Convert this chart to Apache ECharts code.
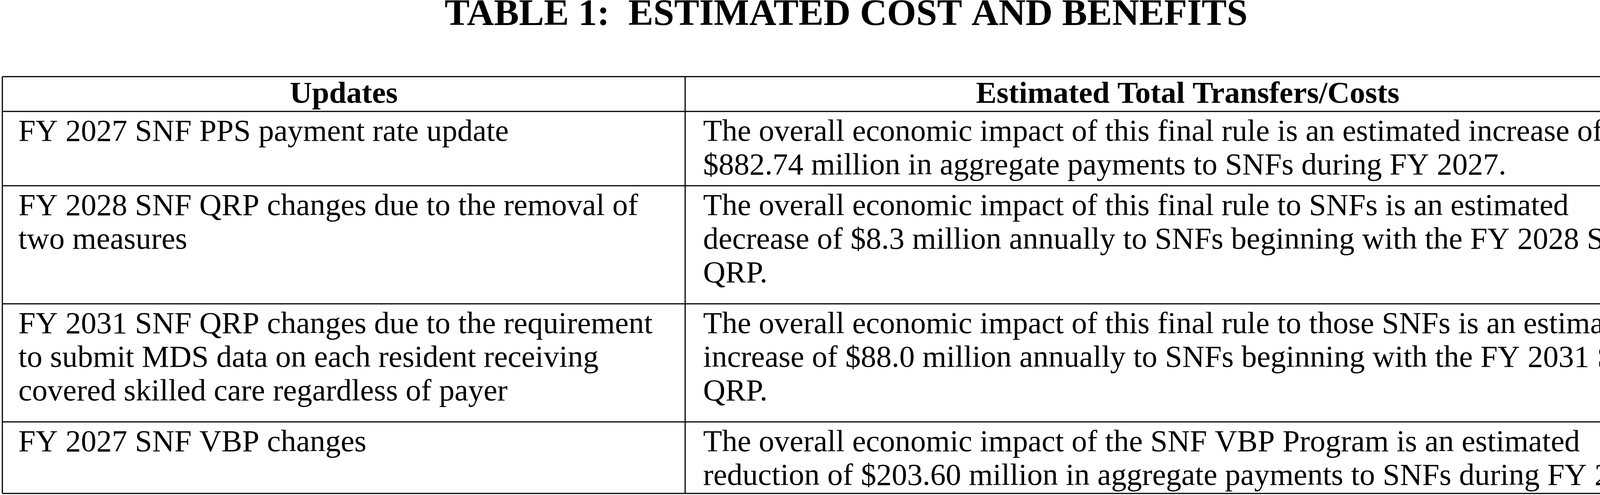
<!DOCTYPE html>
<html><head><meta charset="utf-8">
<script src="https://cdn.jsdelivr.net/npm/echarts@6/dist/echarts.min.js"></script>
<style>html,body{margin:0;padding:0;background:#fff}#c{width:4333px;height:1266px}</style>
</head><body><div id="c"></div>
<script>
const title = 'TABLE 1:  ESTIMATED COST AND BENEFITS';
const headers = ['Updates', 'Estimated Total Transfers/Costs'];
const updates = [
  'FY 2027 SNF PPS payment rate update',
  'FY 2028 SNF QRP changes due to the removal of\ntwo measures',
  'FY 2031 SNF QRP changes due to the requirement\nto submit MDS data on each resident receiving\ncovered skilled care regardless of payer',
  'FY 2027 SNF VBP changes'
];
const transfers = [
  'The overall economic impact of this final rule is an estimated increase of\n$882.74 million in aggregate payments to SNFs during FY 2027.',
  'The overall economic impact of this final rule to SNFs is an estimated\ndecrease of $8.3 million annually to SNFs beginning with the FY 2028 SNF\nQRP.',
  'The overall economic impact of this final rule to those SNFs is an estimated\nincrease of $88.0 million annually to SNFs beginning with the FY 2031 SNF\nQRP.',
  'The overall economic impact of the SNF VBP Program is an estimated\nreduction of $203.60 million in aggregate payments to SNFs during FY 2027.'
];

const L = 6, R = 4327, D = 1754;
const rowLines = [196, 285, 475, 777, 1079, 1262];
const font = '"Liberation Serif","Times New Roman",serif';
const els = [];
const ln = (x1,y1,x2,y2) => els.push({type:'line', shape:{x1,y1,x2,y2}, style:{stroke:'#000', lineWidth:3}});
rowLines.forEach(y => ln(L, y, R, y));
ln(L, rowLines[0], L, rowLines[5]);
ln(R, rowLines[0], R, rowLines[5]);
ln(D, rowLines[0], D, rowLines[5]);
els.push({type:'text', x:2166, y:39, style:{text:title, font:'bold 96px ' + font, fill:'#000', align:'center', verticalAlign:'middle'}});
els.push({type:'text', x:(L+D)/2, y:243, style:{text:headers[0], font:'bold 79px ' + font, fill:'#000', align:'center', verticalAlign:'middle'}});
els.push({type:'text', x:(D+R)/2, y:243, style:{text:headers[1], font:'bold 79px ' + font, fill:'#000', align:'center', verticalAlign:'middle'}});
updates.forEach((t, i) => {
  const top = rowLines[i+1] + 11;
  els.push({type:'text', x:47, y:top, style:{text:t, fontFamily:font, fontSize:79, lineHeight:86, fill:'#000', align:'left', verticalAlign:'top'}});
  els.push({type:'text', x:1800, y:top, style:{text:transfers[i], fontFamily:font, fontSize:79, lineHeight:86, fill:'#000', align:'left', verticalAlign:'top'}});
});
const chart = echarts.init(document.getElementById('c'));
chart.setOption({backgroundColor:'#fff', animation:false, graphic:{elements:els}});
</script></body></html>
